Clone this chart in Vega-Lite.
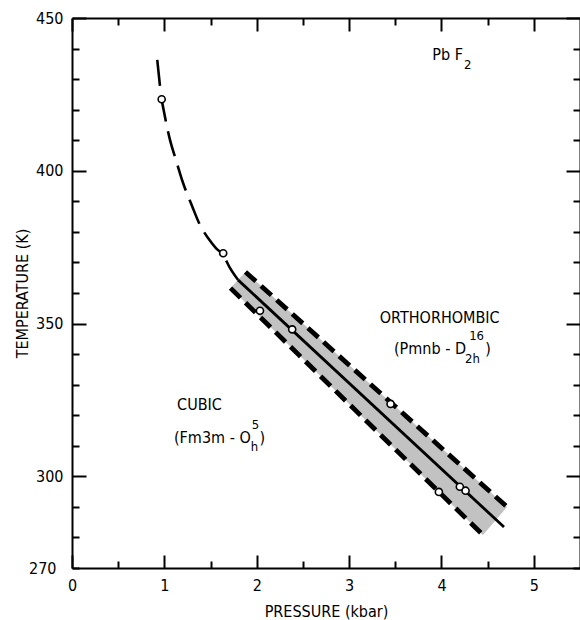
{
  "$schema": "https://vega.github.io/schema/vega-lite/v6.json",
  "autosize": "none",
  "width": 508,
  "height": 550,
  "padding": {"left": 72, "top": 18, "right": 0, "bottom": 52},
  "background": "white",
  "config": {
    "view": {"stroke": null},
    "font": "Liberation Sans Narrow, DejaVu Sans Condensed, Roboto Condensed, Liberation Sans",
    "axis": {
      "domainColor": "black", "domainWidth": 2, "tickColor": "black", "tickWidth": 2,
      "labelColor": "black", "titleColor": "black", "grid": false,
      "labelFont": "Liberation Sans Narrow, DejaVu Sans Condensed, Roboto Condensed, Liberation Sans",
      "titleFont": "Liberation Sans Narrow, DejaVu Sans Condensed, Roboto Condensed, Liberation Sans",
      "labelFontSize": 16, "titleFontSize": 16, "titleFontWeight": "normal"
    }
  },
  "datasets": {
    "band": [
      {"i": 1, "P": 1.878, "T": 366.9},
      {"i": 2, "P": 4.710, "T": 290.0},
      {"i": 3, "P": 4.450, "T": 280.8},
      {"i": 4, "P": 1.716, "T": 361.6}
    ],
    "edges": [
      {"edge": "upper", "P": 1.878, "T": 366.9},
      {"edge": "upper", "P": 4.710, "T": 290.0},
      {"edge": "lower", "P": 1.716, "T": 361.6},
      {"edge": "lower", "P": 4.450, "T": 280.8}
    ],
    "center": [
      {"P": 1.797, "T": 364.3},
      {"P": 4.677, "T": 283.4}
    ],
    "curve": [
      {"P": 0.923, "T": 436.3},
      {"P": 0.971, "T": 423.4},
      {"P": 0.996, "T": 419.3},
      {"P": 1.061, "T": 410.1},
      {"P": 1.126, "T": 403.5},
      {"P": 1.198, "T": 396.4},
      {"P": 1.302, "T": 388.3},
      {"P": 1.385, "T": 382.3},
      {"P": 1.475, "T": 377.9},
      {"P": 1.558, "T": 374.7},
      {"P": 1.637, "T": 372.4},
      {"P": 1.710, "T": 368.2},
      {"P": 1.797, "T": 364.3}
    ],
    "points": [
      {"P": 0.971, "T": 423.4},
      {"P": 1.637, "T": 373.0},
      {"P": 2.035, "T": 354.2},
      {"P": 2.384, "T": 348.1},
      {"P": 3.449, "T": 323.7},
      {"P": 3.972, "T": 294.9},
      {"P": 4.199, "T": 296.6},
      {"P": 4.261, "T": 295.3}
    ],
    "labelsCenter": [
      {"P": 3.981, "T": 351.7, "text": "ORTHORHOMBIC"},
      {"P": 1.380, "T": 323.4, "text": "CUBIC"}
    ],
    "labelsRight": [
      {"P": 4.266, "T": 341.6, "text": "(Pmnb - D"},
      {"P": 1.935, "T": 312.5, "text": "(Fm3m - O"},
      {"P": 4.233, "T": 437.9, "text": "Pb F"}
    ],
    "labelsLeft": [
      {"P": 4.475, "T": 341.7, "text": ")"},
      {"P": 2.030, "T": 312.6, "text": ")"}
    ],
    "labelsSmall": [
      {"P": 4.300, "T": 345.8, "text": "16"},
      {"P": 4.255, "T": 338.3, "text": "2h"},
      {"P": 1.945, "T": 316.8, "text": "5"},
      {"P": 1.934, "T": 309.5, "text": "h"},
      {"P": 4.243, "T": 434.6, "text": "2"}
    ]
  },
  "resolve": {"axis": {"x": "independent", "y": "independent"}},
  "layer": [
    {
      "data": {"name": "band"},
      "mark": {"type": "line", "fill": "#c2c2c2", "strokeWidth": 0, "stroke": null},
      "encoding": {
        "x": {"field": "P", "type": "quantitative", "scale": {"domain": [0, 5.5], "nice": false, "zero": false},
          "axis": {"orient": "bottom", "title": "PRESSURE (kbar)", "titlePadding": 10,
            "values": [0, 0.5, 1, 1.5, 2, 2.5, 3, 3.5, 4, 4.5, 5],
            "labelExpr": "datum.value % 1 === 0 ? format(datum.value, 'd') : ''",
            "tickSize": {"condition": {"test": "datum.value % 1 === 0", "value": -13}, "value": -7},
            "labelPadding": 22, "labelFlush": false}},
        "y": {"field": "T", "type": "quantitative", "scale": {"domain": [270, 450], "nice": false, "zero": false},
          "axis": {"orient": "left", "title": "TEMPERATURE (K)", "titlePadding": -2,
            "values": [270, 280, 290, 300, 310, 320, 330, 340, 350, 360, 370, 380, 390, 400, 410, 420, 430, 440, 450],
            "labelExpr": "(datum.value % 50 === 0 || datum.value === 270) ? format(datum.value, 'd') : ''",
            "tickSize": {"condition": {"test": "datum.value % 50 === 0", "value": -14}, "value": -7},
            "labelPadding": 23, "labelFlush": false}},
        "order": {"field": "i", "type": "quantitative"}
      }
    },
    {
      "data": {"name": "edges"},
      "mark": {"type": "line", "color": "black", "strokeWidth": 4.8, "strokeDash": [14, 7], "strokeCap": "butt"},
      "encoding": {
        "x": {"field": "P", "type": "quantitative", "axis": null},
        "y": {"field": "T", "type": "quantitative", "axis": null},
        "detail": {"field": "edge", "type": "nominal"}
      }
    },
    {
      "data": {"name": "center"},
      "mark": {"type": "line", "color": "black", "strokeWidth": 2.8},
      "encoding": {
        "x": {"field": "P", "type": "quantitative", "axis": null},
        "y": {"field": "T", "type": "quantitative", "axis": null}
      }
    },
    {
      "data": {"name": "curve"},
      "mark": {"type": "line", "color": "black", "strokeWidth": 2.6, "strokeDash": [26, 10], "interpolate": "monotone"},
      "encoding": {
        "x": {"field": "P", "type": "quantitative", "axis": null},
        "y": {"field": "T", "type": "quantitative", "axis": null}
      }
    },
    {
      "data": {"name": "labelsCenter"},
      "mark": {"type": "text", "align": "center", "baseline": "middle", "fontSize": 16, "color": "black"},
      "encoding": {
        "x": {"field": "P", "type": "quantitative", "axis": null},
        "y": {"field": "T", "type": "quantitative", "axis": null},
        "text": {"field": "text"}
      }
    },
    {
      "data": {"name": "labelsRight"},
      "mark": {"type": "text", "align": "right", "baseline": "middle", "fontSize": 16, "color": "black"},
      "encoding": {
        "x": {"field": "P", "type": "quantitative", "axis": null},
        "y": {"field": "T", "type": "quantitative", "axis": null},
        "text": {"field": "text"}
      }
    },
    {
      "data": {"name": "labelsLeft"},
      "mark": {"type": "text", "align": "left", "baseline": "middle", "fontSize": 16, "color": "black"},
      "encoding": {
        "x": {"field": "P", "type": "quantitative", "axis": null},
        "y": {"field": "T", "type": "quantitative", "axis": null},
        "text": {"field": "text"}
      }
    },
    {
      "data": {"name": "labelsSmall"},
      "mark": {"type": "text", "align": "left", "baseline": "middle", "fontSize": 13, "color": "black"},
      "encoding": {
        "x": {"field": "P", "type": "quantitative", "axis": null},
        "y": {"field": "T", "type": "quantitative", "axis": null},
        "text": {"field": "text"}
      }
    },
    {
      "data": {"name": "points"},
      "mark": {"type": "point", "shape": "circle", "filled": false, "fill": "white", "fillOpacity": 1, "stroke": "black", "strokeWidth": 1.6, "size": 50, "opacity": 1},
      "encoding": {
        "x": {"field": "P", "type": "quantitative",
          "axis": {"orient": "top", "title": null, "labels": false,
            "values": [0, 0.5, 1, 1.5, 2, 2.5, 3, 3.5, 4, 4.5, 5],
            "tickSize": {"condition": {"test": "datum.value % 1 === 0", "value": -13}, "value": -7}}},
        "y": {"field": "T", "type": "quantitative",
          "axis": {"orient": "right", "title": null, "labels": false,
            "values": [270, 280, 290, 300, 310, 320, 330, 340, 350, 360, 370, 380, 390, 400, 410, 420, 430, 440, 450],
            "tickSize": {"condition": {"test": "datum.value % 50 === 0", "value": -14}, "value": -7}}}
      }
    }
  ]
}
